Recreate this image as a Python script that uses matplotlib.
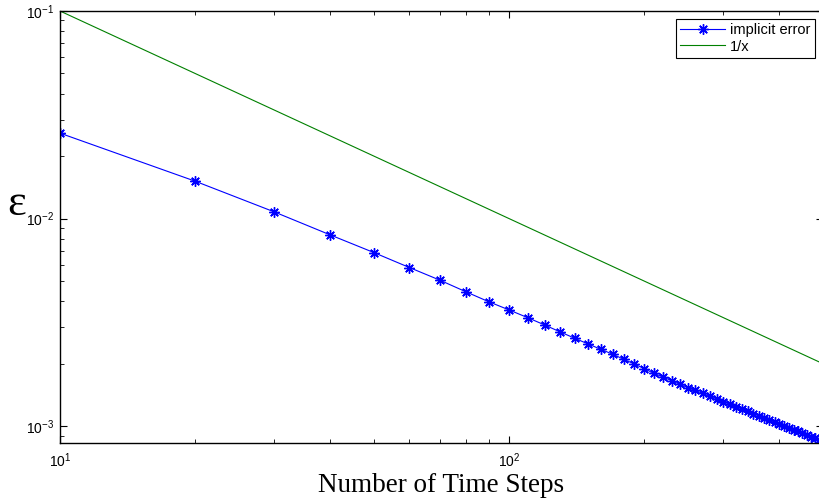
import matplotlib
matplotlib.use('Agg')
import matplotlib.pyplot as plt
from matplotlib.ticker import LogLocator, NullFormatter

plt.rcParams['font.family'] = ['Liberation Sans', 'DejaVu Sans']
plt.rcParams['mathtext.default'] = 'regular'

# number of time steps
steps = [10, 20, 30, 40, 50, 60, 70, 80, 90, 100,
         110, 120, 130, 140, 150, 160, 170, 180, 190, 200,
         210, 220, 230, 240, 250, 260, 270, 280, 290, 300,
         310, 320, 330, 340, 350, 360, 370, 380, 390, 400,
         410, 420, 430, 440, 450, 460, 470, 480, 490, 500]

# implicit scheme error
implicit_err = [0.02580, 0.01514, 0.01077, 0.00834, 0.00686, 0.00581, 0.00506, 0.004448, 0.003981, 0.003631,
                0.003333, 0.003073, 0.002844, 0.002652, 0.002489, 0.002347, 0.002223, 0.002101, 0.001994, 0.001892,
                0.001798, 0.001726, 0.001657, 0.001592, 0.001533, 0.001486, 0.001439, 0.001393, 0.001352, 0.001312,
                0.001276, 0.001242, 0.001209, 0.001178, 0.001148, 0.001121, 0.001095, 0.001070, 0.001046, 0.001023,
                0.001002, 0.000981, 0.000961, 0.000943, 0.000924, 0.000907, 0.000890, 0.000874, 0.000859, 0.000844]

ref_line = [1.0 / s for s in steps]

fig = plt.figure(figsize=(8.19, 5.01), dpi=100)
ax = fig.add_axes([60 / 819, 1 - 443 / 501, (823 - 60) / 819, (443 - 11) / 501])

ax.loglog(steps, implicit_err, color=(0, 0, 1), linewidth=0.8,
          marker=(8, 2, 0), markersize=7.5, markeredgewidth=1.0, label='implicit error')
ax.loglog(steps, ref_line, color=(0, 0.5, 0), linewidth=0.8, label='1/x')

ax.set_xlim(10, 500)
ax.set_ylim(8.3e-4, 0.1)

ax.xaxis.set_minor_locator(LogLocator(base=10, subs=range(2, 10)))
ax.yaxis.set_minor_locator(LogLocator(base=10, subs=range(2, 10)))
ax.xaxis.set_minor_formatter(NullFormatter())
ax.yaxis.set_minor_formatter(NullFormatter())
ax.tick_params(which='both', direction='in', top=True, right=True, labelsize=10)
ax.tick_params(which='major', length=5, width=0.8)
ax.tick_params(which='minor', length=3, width=0.6)
ax.tick_params(axis='x', pad=6)
ax.tick_params(axis='y', pad=4)
for sp in ax.spines.values():
    sp.set_linewidth(1.0)

ax.set_xlabel('Number of Time Steps', family=['Liberation Serif', 'DejaVu Serif'],
              fontsize=19.5, labelpad=2)
fig.text(7 / 819, 1 - 215 / 501, '\u03b5', family=['Liberation Serif', 'DejaVu Serif'],
         fontsize=32, ha='left', va='baseline')

leg = ax.legend(loc='upper right', bbox_to_anchor=(815 / 819, 1 - 19 / 501),
                bbox_transform=fig.transFigure, fontsize=10.5, fancybox=False,
                edgecolor='black', framealpha=1, borderaxespad=0, handlelength=3.1,
                handletextpad=0.35, borderpad=0.3, labelspacing=0.15)
leg.get_frame().set_linewidth(0.8)

fig.savefig('out.png', dpi=100)
